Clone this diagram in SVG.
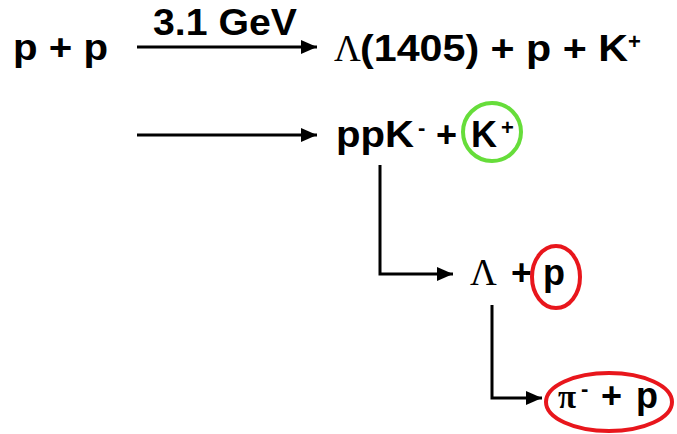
<svg xmlns="http://www.w3.org/2000/svg" width="677" height="434" viewBox="0 0 677 434">
<style>
.t{font-family:"Liberation Sans",Arial,sans-serif;font-weight:bold;font-size:36px;fill:#000}
.g{font-family:"Liberation Serif","Times New Roman",serif;font-weight:normal;font-size:37px}
.sup{font-size:22px}
.conn{fill:none;stroke:#000;stroke-width:3}
.ring{fill:none;stroke-width:4}
</style>
<defs>
<marker id="ah" markerUnits="userSpaceOnUse" markerWidth="16" markerHeight="14" viewBox="0 0 16 14" refX="16" refY="7" orient="auto">
<path d="M0,0 L16,7 L0,14 Z" fill="#000"/>
</marker>
</defs>
<rect width="677" height="434" fill="#fff"/>
<g id="connectors">
<path class="conn" d="M137,47 H317" marker-end="url(#ah)"/>
<path class="conn" d="M137,135 H317" marker-end="url(#ah)"/>
<path class="conn" d="M380,165 V274 H453" marker-end="url(#ah)"/>
<path class="conn" d="M492,305 V398 H542" marker-end="url(#ah)"/>
</g>
<g id="label-energy">
<text class="t" x="153" y="35" textLength="144" lengthAdjust="spacingAndGlyphs">3.1 GeV</text>
</g>
<g id="node-pp">
<text class="t" x="13" y="60" textLength="95" lengthAdjust="spacingAndGlyphs">p + p</text>
</g>
<g id="node-lambda1405">
<text class="t" y="61"><tspan class="g" x="334">Λ</tspan><tspan x="360" textLength="268" lengthAdjust="spacingAndGlyphs">(1405) + p + K</tspan><tspan class="sup" x="628" dy="-12">+</tspan></text>
</g>
<g id="node-ppK">
<text class="t" y="147"><tspan x="336" textLength="78" lengthAdjust="spacingAndGlyphs">ppK</tspan><tspan class="sup" x="418" dy="-12">-</tspan><tspan x="436" dy="12">+</tspan><tspan x="471">K</tspan><tspan class="sup" x="501" dy="-12">+</tspan></text>
<circle class="ring" cx="492" cy="132" r="29" stroke="#66dd3a"/>
</g>
<g id="node-lambda-p">
<text class="t" y="285"><tspan class="g" x="470">Λ</tspan><tspan x="511">+</tspan><tspan x="543">p</tspan></text>
<ellipse class="ring" cx="556" cy="277" rx="24" ry="31" stroke="#e8161c"/>
</g>
<g id="node-pi-p">
<text class="t" y="408"><tspan class="g" x="558" style="font-weight:bold;font-size:33px">π</tspan><tspan class="sup" x="581" dy="-12">-</tspan><tspan x="601" dy="12">+</tspan><tspan x="636">p</tspan></text>
<ellipse class="ring" cx="609" cy="402" rx="63" ry="29" stroke="#e8161c"/>
</g>
</svg>
